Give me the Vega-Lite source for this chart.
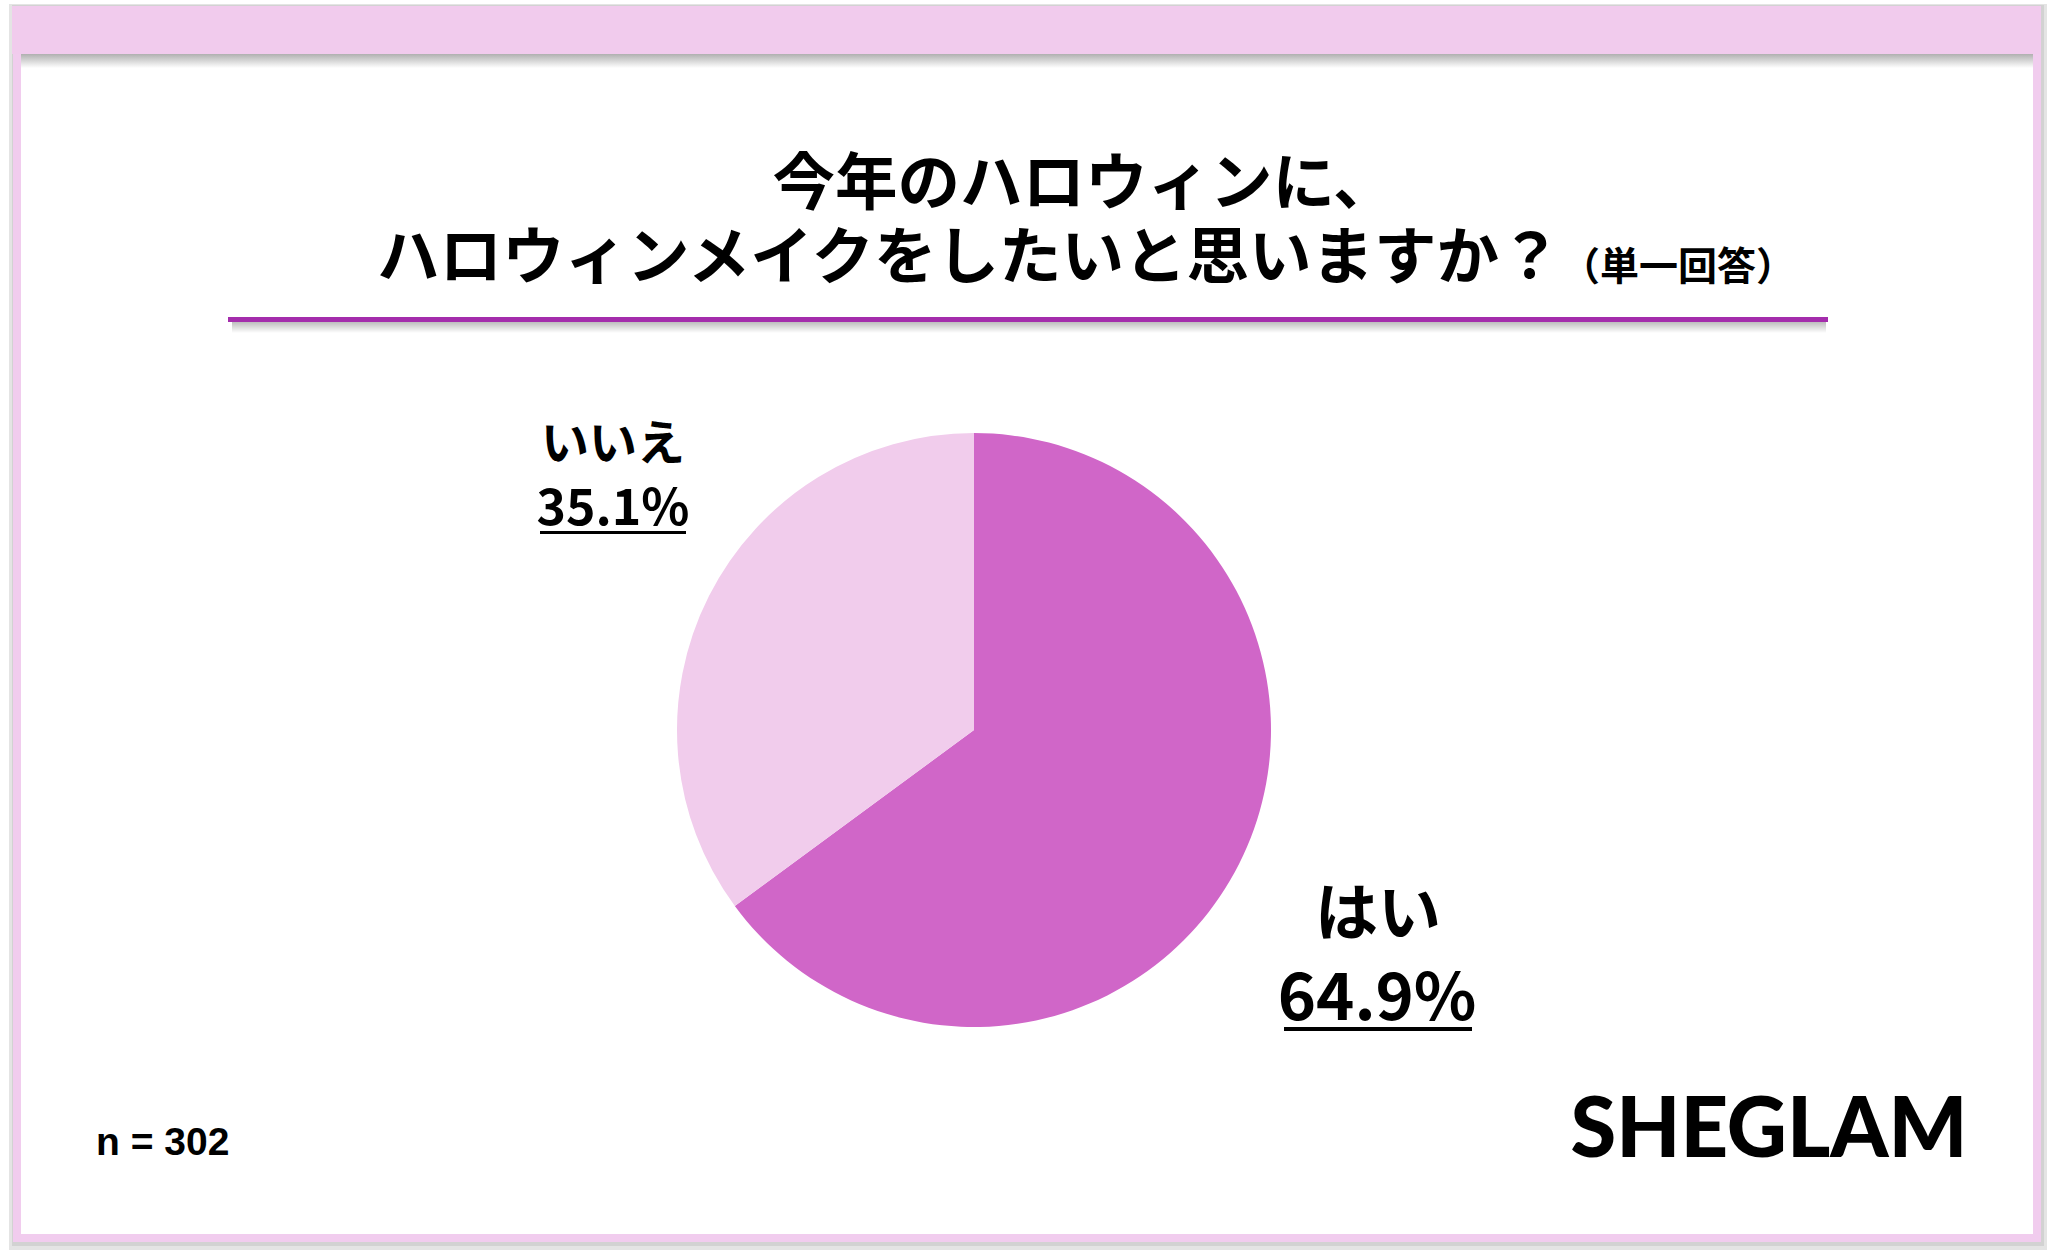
{
  "$schema": "https://vega.github.io/schema/vega-lite/v6.json",
  "width": 2053,
  "height": 1260,
  "autosize": {"type": "fit", "contains": "padding"},
  "padding": 0,
  "background": "white",
  "config": {"view": {"stroke": null}},
  "data": {"values": [
    {"label": "はい", "share": 0.649},
    {"label": "いいえ", "share": 0.351}
  ]},
  "layer": [
    {"data": {"values": [{}]}, "mark": {"type": "rect", "x": 9, "x2": 2047, "y": 4, "y2": 1250, "fill": "#e4e4e4"}, "encoding": {}},
    {"data": {"values": [{}]}, "mark": {"type": "rect", "x": 12, "x2": 2044, "y": 5, "y2": 1246, "fill": "#d2d2d2"}, "encoding": {}},
    {"data": {"values": [{}]}, "mark": {"type": "rect", "x": 17, "x2": 2037, "y": 10, "y2": 1238, "fill": "#ffffff", "stroke": "#F1CCEE", "strokeWidth": 8}, "encoding": {}},
    {"data": {"values": [{}]}, "mark": {"type": "rect", "x": 21, "x2": 2033, "y": 54, "y2": 68, "fill": {"gradient": "linear", "x1": 0, "y1": 0, "x2": 0, "y2": 1, "stops": [{"offset": 0, "color": "#b0b0b0"}, {"offset": 1, "color": "#ffffff"}]}}, "encoding": {}},
    {"data": {"values": [{}]}, "mark": {"type": "rect", "x": 12, "x2": 2040, "y": 6, "y2": 54, "fill": "#F1CBED"}, "encoding": {}},
    {"data": {"values": [{}]}, "mark": {"type": "text", "x": 1084, "y": 186, "align": "center", "baseline": "middle", "font": "Noto Sans CJK JP", "fontWeight": "bold", "fontSize": 62.5, "fill": "#000000", "text": "今年のハロウィンに、"}, "encoding": {}},
    {"data": {"values": [{}]}, "mark": {"type": "text", "x": 377, "y": 260, "align": "left", "baseline": "middle", "font": "Noto Sans CJK JP", "fontWeight": "bold", "fontSize": 62.5, "fill": "#000000", "text": "ハロウィンメイクをしたいと思いますか？"}, "encoding": {}},
    {"data": {"values": [{}]}, "mark": {"type": "text", "x": 1561, "y": 268, "align": "left", "baseline": "middle", "font": "Noto Sans CJK JP", "fontWeight": "bold", "fontSize": 39, "fill": "#000000", "text": "（単一回答）"}, "encoding": {}},
    {"data": {"values": [{}]}, "mark": {"type": "rect", "x": 232, "x2": 1826, "y": 322, "y2": 333, "fill": {"gradient": "linear", "x1": 0, "y1": 0, "x2": 0, "y2": 1, "stops": [{"offset": 0, "color": "#bdbdbd"}, {"offset": 1, "color": "#ffffff"}]}}, "encoding": {}},
    {"data": {"values": [{}]}, "mark": {"type": "rect", "x": 228, "x2": 1828, "y": 317, "y2": 322, "fill": "#A42DAC"}, "encoding": {}},
    {
      "mark": {"type": "arc", "x": 974, "y": 730, "outerRadius": 297},
      "encoding": {
        "theta": {"field": "share", "type": "quantitative", "stack": true},
        "order": {"field": "share", "type": "quantitative", "sort": "descending"},
        "color": {"field": "label", "type": "nominal", "scale": {"domain": ["はい", "いいえ"], "range": ["#D066C8", "#F1CCEC"]}, "legend": null}
      }
    },
    {
      "mark": {"type": "text", "x": 974, "y": 730, "radius": 437, "dx": 29, "dy": -87, "align": "center", "baseline": "middle", "font": "Noto Sans CJK JP", "fontWeight": "bold", "fontSize": 48, "fill": "#000000"},
      "encoding": {
        "theta": {"field": "share", "type": "quantitative", "stack": true},
        "order": {"field": "share", "type": "quantitative", "sort": "descending"},
        "text": {"condition": {"test": "datum.label === 'いいえ'", "field": "label"}, "value": ""}
      }
    },
    {
      "mark": {"type": "text", "x": 974, "y": 730, "radius": 437, "dx": 29, "dy": -8, "align": "center", "baseline": "alphabetic", "font": "Noto Sans CJK JP", "fontWeight": "bold", "fontSize": 50, "fill": "#000000"},
      "encoding": {
        "theta": {"field": "share", "type": "quantitative", "stack": true},
        "order": {"field": "share", "type": "quantitative", "sort": "descending"},
        "text": {"condition": {"test": "datum.label === 'いいえ'", "field": "share", "type": "quantitative", "format": ".1%"}, "value": ""}
      }
    },
    {
      "mark": {"type": "text", "x": 974, "y": 730, "radius": 464, "dx": -10, "dy": -23, "align": "center", "baseline": "middle", "font": "Noto Sans CJK JP", "fontWeight": "bold", "fontSize": 63, "fill": "#000000"},
      "encoding": {
        "theta": {"field": "share", "type": "quantitative", "stack": true},
        "order": {"field": "share", "type": "quantitative", "sort": "descending"},
        "text": {"condition": {"test": "datum.label === 'はい'", "field": "label"}, "value": ""}
      }
    },
    {
      "mark": {"type": "text", "x": 974, "y": 730, "radius": 464, "dx": -11, "dy": 81, "align": "center", "baseline": "alphabetic", "font": "Noto Sans CJK JP", "fontWeight": "bold", "fontSize": 65, "fill": "#000000"},
      "encoding": {
        "theta": {"field": "share", "type": "quantitative", "stack": true},
        "order": {"field": "share", "type": "quantitative", "sort": "descending"},
        "text": {"condition": {"test": "datum.label === 'はい'", "field": "share", "type": "quantitative", "format": ".1%"}, "value": ""}
      }
    },
    {"data": {"values": [{}]}, "mark": {"type": "rect", "x": 540, "x2": 686, "y": 531, "y2": 534, "fill": "#000000"}, "encoding": {}},
    {"data": {"values": [{}]}, "mark": {"type": "rect", "x": 1284, "x2": 1472, "y": 1027, "y2": 1031, "fill": "#000000"}, "encoding": {}},
    {"data": {"values": [{}]}, "mark": {"type": "text", "x": 96, "y": 1155, "align": "left", "baseline": "alphabetic", "font": "Liberation Sans", "fontWeight": "bold", "fontSize": 39, "fill": "#000000", "text": "n = 302"}, "encoding": {}},
    {"data": {"values": [{}]}, "mark": {"type": "text", "x": 1769, "y": 1157, "align": "center", "baseline": "alphabetic", "font": "Lato", "fontWeight": 900, "fontSize": 83, "fill": "#000000", "text": "SHEGLAM"}, "encoding": {}}
  ]
}
